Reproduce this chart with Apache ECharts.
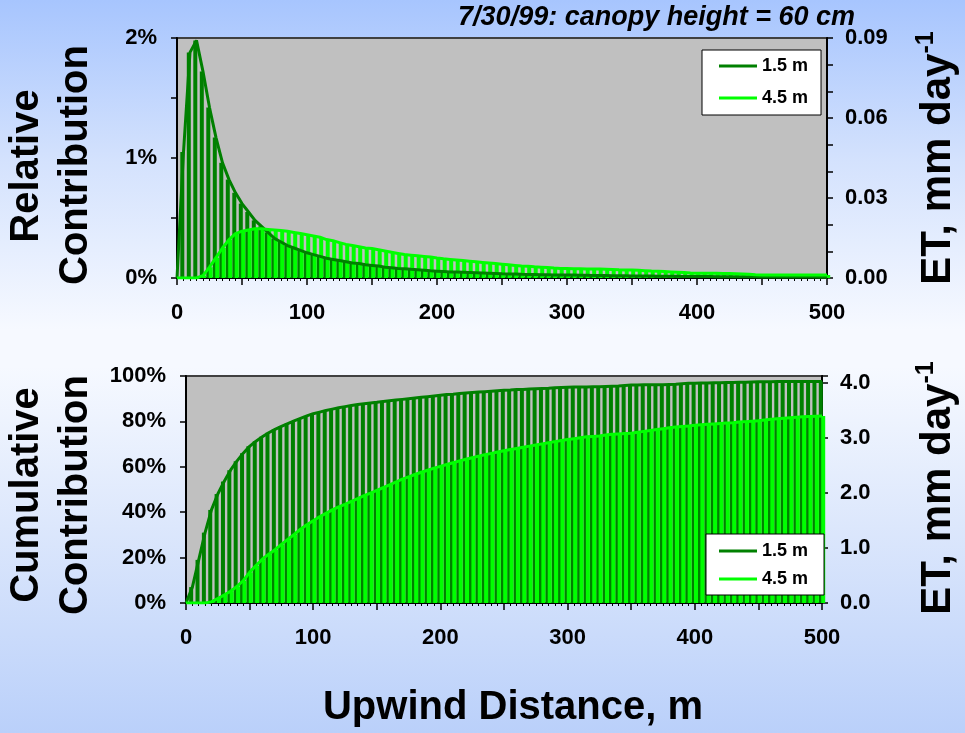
<!DOCTYPE html>
<html><head><meta charset="utf-8">
<script src="https://cdn.jsdelivr.net/npm/echarts@6/dist/echarts.min.js"></script>
<style>
html,body{margin:0;padding:0;width:965px;height:733px;overflow:hidden;
background:linear-gradient(to bottom,#a7c5fe 0%,#d4e2fd 22%,#f6f9ff 45%,#f6f9ff 50%,#dce7fc 72%,#bad0fa 100%);}
#c{width:965px;height:733px;}
</style></head><body><div id="c"></div>
<script>
// Upwind distance (m) of each bar / point
const distance = [0,5,10,15,20,25,30,35,40,45,50,55,60,65,70,75,80,85,90,95,
  100,105,110,115,120,125,130,135,140,145,150,155,160,165,170,175,180,185,190,195,
  200,205,210,215,220,225,230,235,240,245,250,255,260,265,270,275,280,285,290,295,
  300,305,310,315,320,325,330,335,340,345,350,355,360,365,370,375,380,385,390,395,
  400,405,410,415,420,425,430,435,440,445,450,455,460,465,470,475,480,485,490,495,500];

// Relative contribution (%) - measurement height 1.5 m
const relative15 = [0,1.05,1.88,1.98,1.72,1.42,1.17,0.96,0.82,0.71,0.62,0.55,0.48,0.43,0.38,0.33,0.30,0.27,0.25,0.23,
  0.21,0.195,0.18,0.165,0.155,0.145,0.135,0.125,0.12,0.11,0.105,0.10,0.09,0.085,0.08,0.078,0.072,0.068,0.064,0.06,
  0.057,0.054,0.051,0.049,0.047,0.045,0.043,0.041,0.039,0.037,0.035,0.034,0.033,0.031,0.030,0.029,0.028,0.027,0.026,0.025,
  0.025,0.024,0.023,0.022,0.021,0.021,0.020,0.019,0.019,0.018,0.017,0.017,0.016,0.016,0.015,0.015,0.014,0.014,0.013,0.013,
  0.012,0.012,0.012,0.011,0.011,0.011,0.010,0.010,0.010,0.010,0.009,0.009,0.009,0.009,0.008,0.008,0.008,0.008,0.008,0.007,0.007];

// Relative contribution (%) - measurement height 4.5 m
const relative45 = [0,0,0,0,0.02,0.09,0.17,0.25,0.32,0.37,0.39,0.40,0.41,0.41,0.405,0.40,0.395,0.39,0.38,0.37,
  0.36,0.35,0.34,0.32,0.31,0.295,0.28,0.27,0.26,0.25,0.245,0.235,0.225,0.215,0.205,0.195,0.19,0.185,0.18,0.175,
  0.167,0.16,0.155,0.15,0.145,0.14,0.135,0.13,0.125,0.12,0.115,0.11,0.105,0.10,0.097,0.093,0.09,0.087,0.083,0.08,
  0.08,0.078,0.077,0.075,0.075,0.074,0.072,0.07,0.068,0.067,0.066,0.064,0.061,0.058,0.056,0.054,0.051,0.048,0.045,0.041,
  0.040,0.040,0.039,0.039,0.038,0.037,0.036,0.034,0.031,0.028,0.026,0.026,0.025,0.025,0.025,0.025,0.025,0.025,0.025,0.025,0.025];

// Cumulative contribution (%) - 1.5 m
const cumulative15 = [0,7,19,31,41,48,53.5,58.5,62.5,66,69,71.3,73.2,75,76.5,77.8,79,80.2,81.3,82.4,
  83.4,84.1,84.8,85.4,86,86.5,87,87.4,87.8,88.1,88.4,88.8,89.1,89.4,89.7,90,90.3,90.6,90.9,91.2,
  91.5,91.8,92,92.3,92.5,92.7,92.9,93.1,93.3,93.5,93.7,93.8,94,94.1,94.3,94.4,94.5,94.6,94.8,94.9,
  95,95.1,95.2,95.2,95.3,95.3,95.4,95.5,95.6,95.8,96,96,96.1,96.1,96.2,96.2,96.3,96.4,96.6,96.8,
  96.8,96.9,96.9,97,97,97.1,97.1,97.2,97.3,97.4,97.5,97.5,97.5,97.6,97.6,97.6,97.6,97.6,97.6,97.6,97.6];

// Cumulative contribution (%) - 4.5 m
const cumulative45 = [0,0,0,0,0.5,2,3.5,5.2,7.3,9.8,13.5,16.5,19.3,21.5,23.5,25.8,28,30.2,32.5,34.5,
  36.2,38,39.5,41,42.3,43.5,44.8,46,47.3,48.4,49.6,50.8,52,53.3,54.6,55.6,56.6,57.6,58.5,59.4,
  60.2,61,61.8,62.6,63.3,64,64.7,65.3,65.9,66.5,67.1,67.6,68.1,68.6,69.1,69.6,70.1,70.6,71.1,71.6,
  72,72.4,72.8,73.2,73.4,73.6,74,74.3,74.5,74.7,74.8,75.2,75.6,76,76.4,76.8,77.2,77.5,77.8,78,
  78.3,78.5,78.7,78.9,79.1,79.3,79.4,79.7,79.9,80.1,80.3,80.6,80.9,81.2,81.4,81.6,81.8,82,82.2,82.3,82.4];

const seriesNames = ['1.5 m', '4.5 m'];
const titleText = '7/30/99: canopy height = 60 cm';
const xTitle = 'Upwind Distance, m';

const DARK = '#008000', LIGHT = '#00ff00';
const FF = '"Liberation Sans", Arial, Helvetica, sans-serif';
const lbl = {fontFamily: FF, fontWeight: 'bold', fontSize: 22, color: '#000'};
const pairs = arr => distance.map((d, i) => [d, arr[i]]);

function xAxisFor(grid) {
  return {
    type: 'value', gridIndex: grid, min: 0, max: 500, interval: 50,
    axisLine: {show: true, onZero: false, lineStyle: {color: '#000', width: 2}},
    axisTick: {show: true, length: 7, lineStyle: {color: '#000', width: 1.5}},
    minorTick: {show: true, splitNumber: 10, length: 3, lineStyle: {color: '#000', width: 1}},
    splitLine: {show: false}, minorSplitLine: {show: false},
    axisLabel: Object.assign({margin: 24, formatter: v => (v % 100 === 0 ? String(v) : '')}, lbl)
  };
}
function yAxisFor(grid, pos, min, max, interval, fmt, margin) {
  return {
    type: 'value', gridIndex: grid, position: pos, min: min, max: max, interval: interval,
    axisLine: {show: true, onZero: false, lineStyle: {color: '#000', width: 2}},
    axisTick: {show: true, length: 6, lineStyle: {color: '#000', width: 1.5}},
    splitLine: {show: false},
    axisLabel: Object.assign({margin: margin, formatter: fmt, showMaxLabel: true}, lbl)
  };
}
function barSeries(name, xi, yi, arr, color) {
  return {type: 'bar', name: name, xAxisIndex: xi, yAxisIndex: yi, data: pairs(arr),
    barWidth: 4, barGap: '-40%', itemStyle: {color: color}, z: 2, animation: false};
}
function lineSeries(name, xi, yi, arr, color, z) {
  return {type: 'line', name: name, xAxisIndex: xi, yAxisIndex: yi, data: pairs(arr),
    symbol: 'none', lineStyle: {width: 3, color: color}, itemStyle: {color: color}, z: z, animation: false};
}
function legendFor(left, top, gap, pad) {
  return {
    orient: 'vertical', left: left, top: top, itemWidth: 38, itemHeight: 3, itemGap: gap,
    padding: pad, backgroundColor: '#fff', borderColor: '#000', borderWidth: 1, borderRadius: 0,
    selectedMode: false,
    textStyle: {fontFamily: FF, fontWeight: 'bold', fontSize: 18, color: '#000'},
    data: [{name: seriesNames[0], icon: 'rect', itemStyle: {color: DARK}},
           {name: seriesNames[1], icon: 'rect', itemStyle: {color: LIGHT}}]
  };
}
function rotText(txt, x, y, size) {
  return {type: 'text', x: x, y: y, rotation: Math.PI / 2, silent: true,
    style: {text: txt, x: 0, y: 0, fill: '#000', fontFamily: FF, fontWeight: 'bold', fontSize: size,
      align: 'center', verticalAlign: 'middle', textAlign: 'center', textVerticalAlign: 'middle'}};
}
function etText(x, y) {
  return {type: 'text', x: x, y: y, rotation: Math.PI / 2, silent: true,
    style: {text: '{a|ET, mm day}{b|-1}', x: 0, y: 0, fill: '#000',
      align: 'center', verticalAlign: 'middle', textAlign: 'center', textVerticalAlign: 'middle',
      rich: {
        a: {fontFamily: FF, fontWeight: 'bold', fontSize: 42, lineHeight: 48, fill: '#000', verticalAlign: 'middle'},
        b: {fontFamily: FF, fontWeight: 'bold', fontSize: 25, lineHeight: 28, fill: '#000', verticalAlign: 'top'}
      }}};
}

const chart = echarts.init(document.getElementById('c'), null, {renderer: 'canvas'});
chart.setOption({
  animation: false,
  backgroundColor: 'transparent',
  grid: [
    {left: 177, top: 38, width: 650, height: 240, show: true, backgroundColor: '#c0c0c0', borderColor: '#404040', borderWidth: 2, containLabel: false},
    {left: 186, top: 376, width: 636, height: 227, show: true, backgroundColor: '#c0c0c0', borderColor: '#404040', borderWidth: 2, containLabel: false}
  ],
  xAxis: [xAxisFor(0), xAxisFor(1)],
  yAxis: [
    yAxisFor(0, 'left', 0, 2, 0.5, v => (Math.abs(v - Math.round(v)) < 1e-6 ? Math.round(v) + '%' : ''), 20),
    yAxisFor(0, 'right', 0, 0.09, 0.01, v => (Math.round(v * 100) % 3 === 0 ? v.toFixed(2) : ''), 18),
    yAxisFor(1, 'left', 0, 100, 20, v => Math.round(v) + '%', 20),
    yAxisFor(1, 'right', 0, 4.13, 1, v => (Math.abs(v - Math.round(v)) < 1e-6 ? v.toFixed(1) : ''), 18)
  ],
  legend: [legendFor(702, 50, 14, [7, 13, 8, 17]), legendFor(706, 534, 10, [8, 16, 7, 13])],
  series: [
    barSeries(seriesNames[0], 0, 0, relative15, DARK),
    barSeries(seriesNames[1], 0, 0, relative45, LIGHT),
    lineSeries(seriesNames[0], 0, 0, relative15, DARK, 5),
    lineSeries(seriesNames[1], 0, 0, relative45, LIGHT, 6),
    barSeries(seriesNames[0], 1, 2, cumulative15, DARK),
    barSeries(seriesNames[1], 1, 2, cumulative45, LIGHT),
    lineSeries(seriesNames[0], 1, 2, cumulative15, DARK, 5),
    lineSeries(seriesNames[1], 1, 2, cumulative45, LIGHT, 6)
  ],
  graphic: [
    {type: 'text', x: 855, y: 18, silent: true,
      style: {text: titleText, fill: '#000', fontFamily: FF, fontWeight: 'bold', fontStyle: 'italic', fontSize: 27,
        align: 'right', verticalAlign: 'middle', textAlign: 'right', textVerticalAlign: 'middle'}},
    rotText('Relative', 27, 166, 40),
    rotText('Contribution', 76, 165, 40),
    rotText('Cumulative', 27, 495, 40),
    rotText('Contribution', 76, 495, 40),
    etText(938, 158),
    etText(938, 488),
    {type: 'text', x: 513, y: 708, silent: true,
      style: {text: xTitle, fill: '#000', fontFamily: FF, fontWeight: 'bold', fontSize: 40,
        align: 'center', verticalAlign: 'middle', textAlign: 'center', textVerticalAlign: 'middle'}}
  ]
});
</script></body></html>
